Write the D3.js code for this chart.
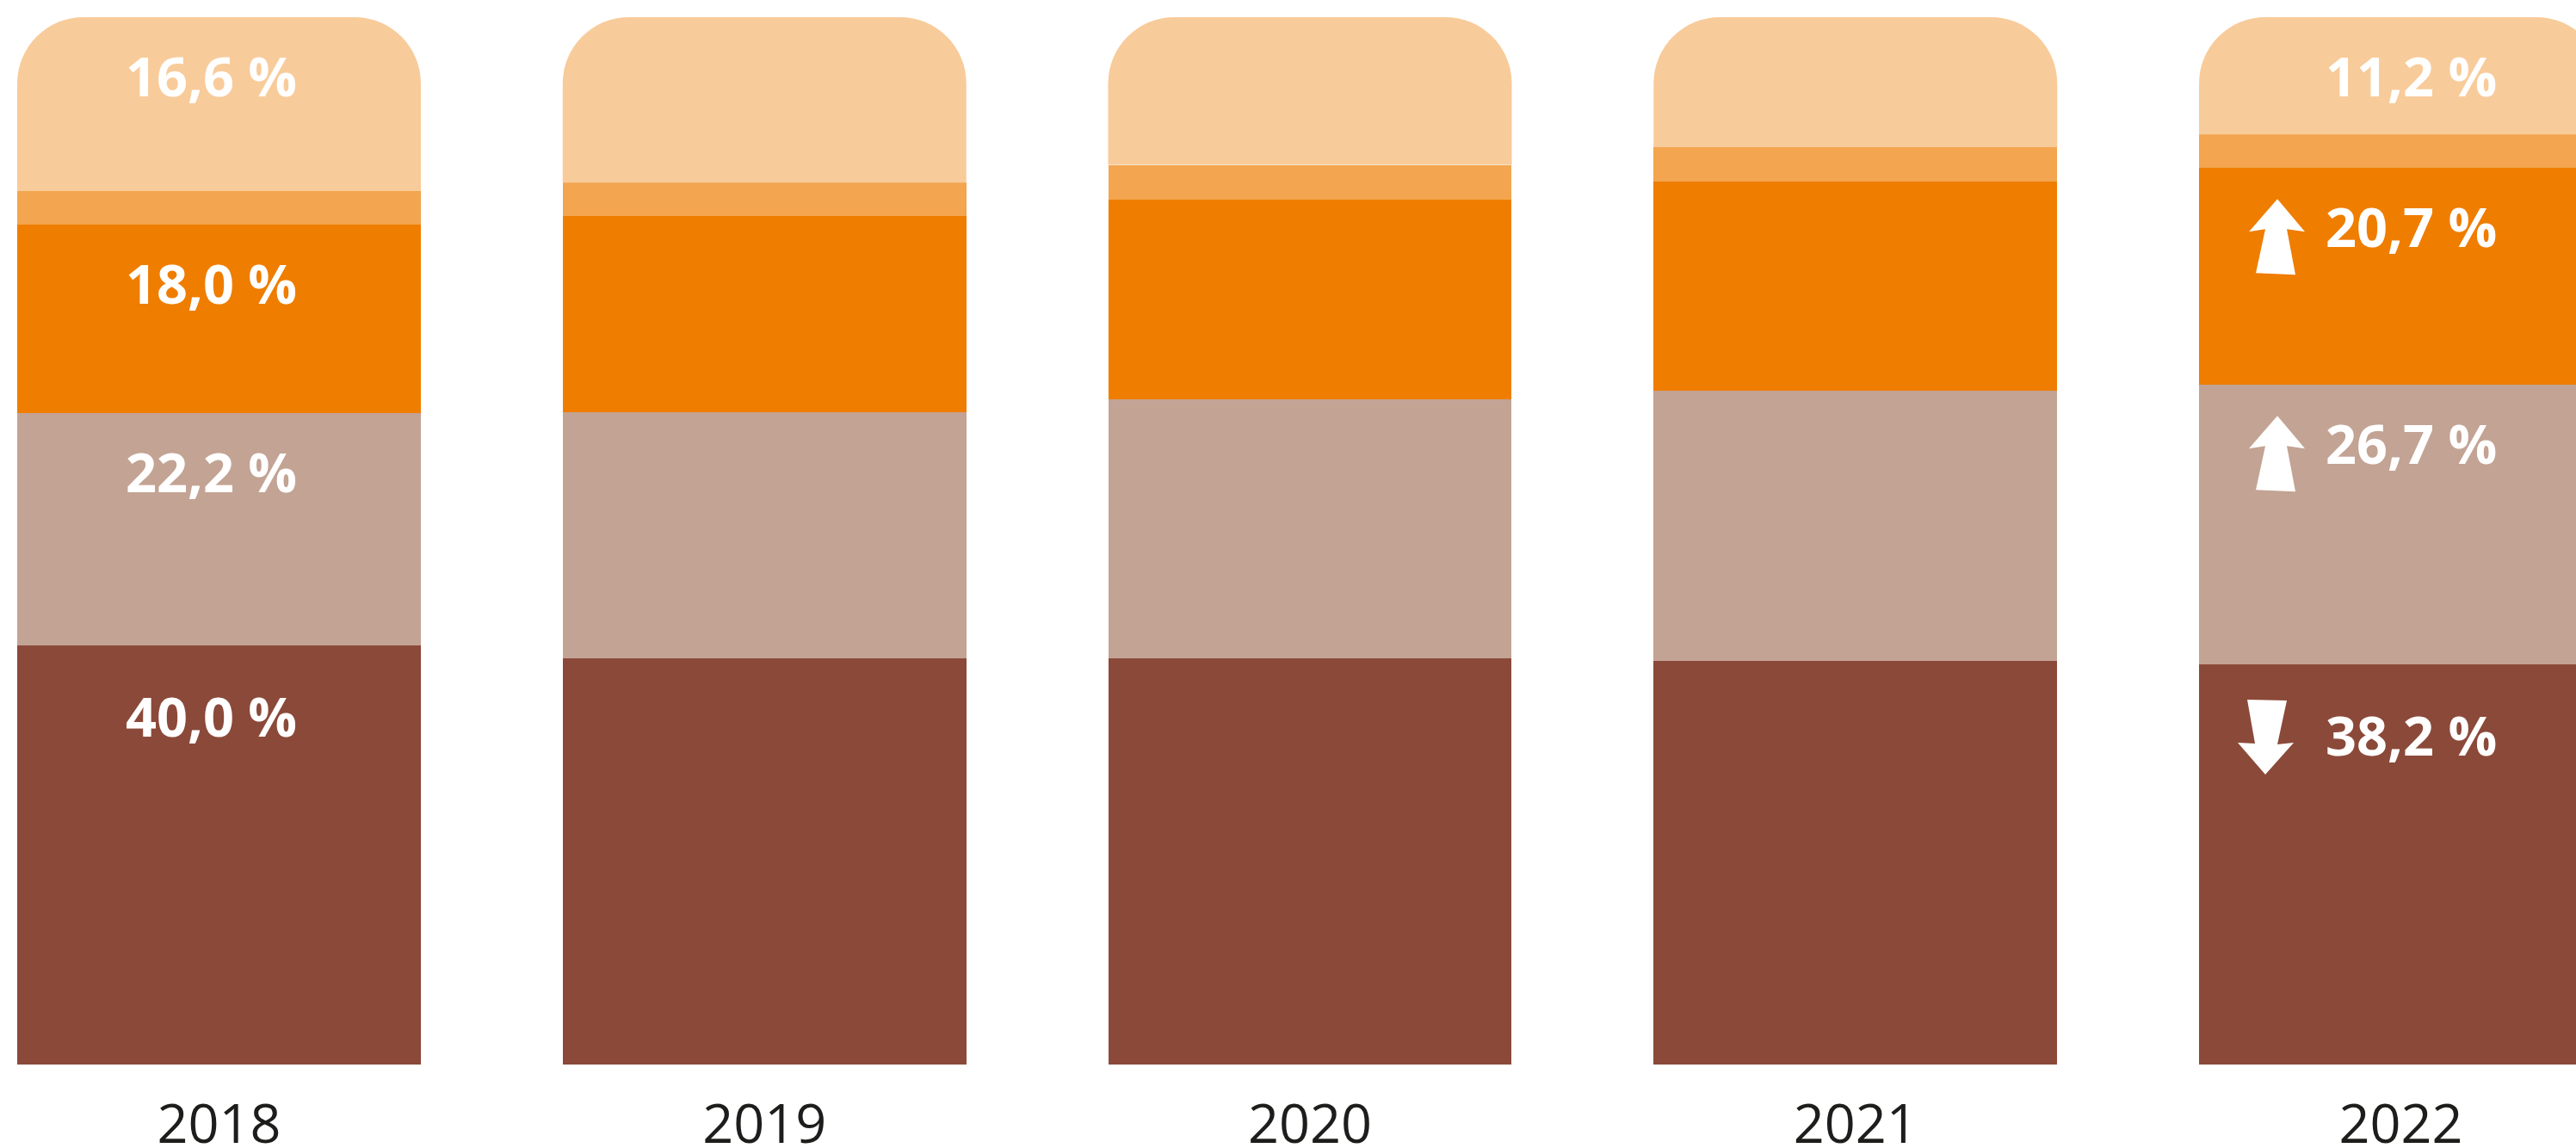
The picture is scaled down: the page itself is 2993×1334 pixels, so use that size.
<!DOCTYPE html>
<html>
<head>
<meta charset="utf-8">
<script src="https://cdn.jsdelivr.net/npm/d3@7/dist/d3.min.js"></script>
<style>
  html, body { margin: 0; padding: 0; background: #ffffff; overflow: hidden; }
  svg { display: block; }
</style>
</head>
<body>
<svg id="chart" width="2993" height="1334"></svg>
<script>
// ---- data (shares in %, stacked from bottom to top) ----
const years = ["2018", "2019", "2020", "2021", "2022"];
const seriesKeys = ["dark", "beige", "orange", "mid", "light"];
const darkValues   = [40.0, 38.8, 38.8, 38.5, 38.2];
const beigeValues  = [22.2, 23.5, 24.7, 25.8, 26.7];
const orangeValues = [18.0, 18.7, 19.1, 20.0, 20.7];
const midValues    = [3.2, 3.2, 3.3, 3.3, 3.2];
const lightValues  = [16.6, 15.8, 14.1, 12.4, 11.2];
const labelledYears = ["2018", "2022"];
const labelledSeries = ["dark", "beige", "orange", "light"];
const trend2022 = { dark: "down", beige: "up", orange: "up" };
const seriesColors = ["#8B4939", "#C3A394", "#EF7D00", "#F3A54F", "#F8CB9A"];

// ---- build table ----
const valuesByKey = { dark: darkValues, beige: beigeValues, orange: orangeValues, mid: midValues, light: lightValues };
const table = years.map((yr, i) => {
  const row = { year: yr };
  seriesKeys.forEach(k => row[k] = valuesByKey[k][i]);
  return row;
});
const stacked = d3.stack().keys(seriesKeys)(table);

const svg = d3.select("#chart");
const x = d3.scaleBand().domain(years).range([20, 3024]).paddingInner(0.26).paddingOuter(0);
const y = d3.scaleLinear().domain([0, 100]).range([1237, 20]);
const color = d3.scaleOrdinal().domain(seriesKeys).range(seriesColors);
const r = 77;

function roundedTop(x0, y0, w, h, rad) {
  const p = d3.path();
  p.moveTo(x0, y0 + h);
  p.lineTo(x0, y0 + rad);
  p.arcTo(x0, y0, x0 + rad, y0, rad);
  p.lineTo(x0 + w - rad, y0);
  p.arcTo(x0 + w, y0, x0 + w, y0 + rad, rad);
  p.lineTo(x0 + w, y0 + h);
  p.closePath();
  return p.toString();
}

const layers = svg.append("g").selectAll("g")
  .data(stacked).join("g")
  .attr("fill", d => color(d.key));

layers.each(function(layer, li) {
  const g = d3.select(this);
  const isTop = li === stacked.length - 1;
  g.selectAll("path").data(layer).join("path")
    .attr("shape-rendering", "crispEdges")
    .attr("d", d => {
      const x0 = x(d.data.year), w = x.bandwidth();
      const y0 = y(d[1]), h = y(d[0]) - y(d[1]);
      if (isTop) return roundedTop(x0, y0, w, h, r);
      return `M${x0},${y0}h${w}v${h}h${-w}Z`;
    })
    .attr("shape-rendering", isTop ? "auto" : "crispEdges");
});

// ---- value labels ----
const fmt = v => d3.format(".1f")(v).replace(".", ",") + " %";
const labelData = [];
stacked.forEach(layer => {
  if (!labelledSeries.includes(layer.key)) return;
  layer.forEach(d => {
    if (!labelledYears.includes(d.data.year)) return;
    labelData.push({ key: layer.key, year: d.data.year, value: d.data[layer.key], top: y(d[1]) });
  });
});

const labelG = svg.append("g")
  .attr("font-family", "'Open Sans', 'Noto Sans', sans-serif")
  .attr("font-weight", 700)
  .attr("font-size", 63)
  .attr("fill", "#ffffff");

labelData.forEach(l => {
  const baseline = l.top + (l.key === "dark" ? 106 : 92);
  const hasTrend = l.year === "2022";
  const t = labelG.append("text").attr("y", baseline).text(fmt(l.value));
  if (hasTrend) {
    t.attr("x", x(l.year) + 147).attr("text-anchor", "start");
    const dir = trend2022[l.key];
    if (dir === "up") {
      labelG.append("path")
        .attr("transform", `translate(${x(l.year) + 91},${baseline - 56})`)
        .attr("d", "M0,0 L32,38 L11,35 L21,88 L-25,86 L-14,35 L-33,38 Z");
    } else if (dir === "down") {
      labelG.append("path")
        .attr("transform", `translate(${x(l.year) + 77},${baseline + 22})`)
        .attr("d", "M0,0 L-32,-37 L-12,-36 L-21,-87 L25,-86 L14,-35 L33,-37 Z");
    }
  } else {
    t.attr("x", x(l.year) + x.bandwidth() / 2 - 9).attr("text-anchor", "middle");
  }
});

// ---- year axis ----
const axis = svg.append("g")
  .attr("transform", `translate(0,${y(0)})`)
  .call(d3.axisBottom(x).tickSize(0).tickPadding(0));
axis.select(".domain").remove();
axis.selectAll("text")
  .attr("dy", null)
  .attr("y", 91)
  .attr("font-family", "'Open Sans', 'Noto Sans', sans-serif")
  .attr("font-size", 63)
  .attr("fill", "#1d1d1b");
</script>
</body>
</html>
